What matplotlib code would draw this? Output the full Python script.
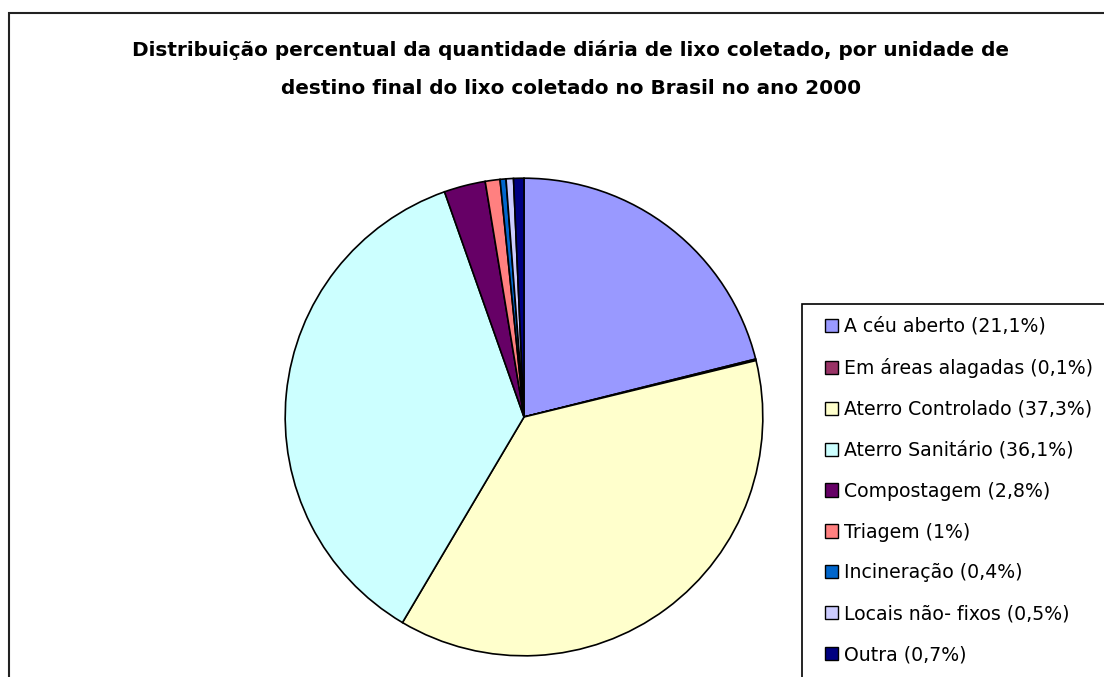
import matplotlib.pyplot as plt
from matplotlib.patches import Patch, Rectangle

categorias = ["A céu aberto", "Em áreas alagadas", "Aterro Controlado",
              "Aterro Sanitário", "Compostagem", "Triagem", "Incineração",
              "Locais não- fixos", "Outra"]
rotulos_pct = ["21,1%", "0,1%", "37,3%", "36,1%", "2,8%", "1%", "0,4%", "0,5%", "0,7%"]
valores = [21.1, 0.1, 37.3, 36.1, 2.8, 1.0, 0.4, 0.5, 0.7]
cores = ["#9999FF", "#993366", "#FFFFCC", "#CCFFFF", "#660066",
         "#FF8080", "#0066CC", "#CCCCFF", "#000080"]

W, H = 1104, 677
fig = plt.figure(figsize=(W / 100, H / 100), dpi=100)

# moldura do gráfico (cortada à direita e embaixo)
fig.patches.append(Rectangle((9 / W, -0.1), 1.2, 1 - 13 / H + 0.1,
                             transform=fig.transFigure, fill=False,
                             edgecolor="#222222", linewidth=1.5))

# pizza: centro (524, 417), raio 240 px
cx, cy, r = 524, 417, 240
ax = fig.add_axes([(cx - r) / W, (H - cy - r) / H, 2 * r / W, 2 * r / H])
ax.pie(valores, colors=cores, startangle=90, counterclock=False,
       wedgeprops=dict(edgecolor="black", linewidth=1.2))
ax.set_xlim(-1.005, 1.005)
ax.set_ylim(-1.005, 1.005)

fig.text(571 / W, 1 - 50 / H,
         "Distribuição percentual da quantidade diária de lixo coletado, por unidade de",
         ha="center", va="center", fontsize=14.4, fontweight="bold")
fig.text(571 / W, 1 - 88 / H,
         "destino final do lixo coletado no Brasil no ano 2000",
         ha="center", va="center", fontsize=14.4, fontweight="bold")

# caixa da legenda (cortada pela borda da figura)
fig.patches.append(Rectangle((802 / W, -0.1), 1.0, 1 - 304 / H + 0.1,
                             transform=fig.transFigure, fill=False,
                             edgecolor="black", linewidth=1.2))

handles = [Patch(facecolor=c, edgecolor="black", linewidth=1) for c in cores]
labels = [f"{n} ({p})" for n, p in zip(categorias, rotulos_pct)]
leg = fig.legend(handles, labels, loc="upper left",
                 bbox_to_anchor=(825 / W, 1 - 317 / H),
                 bbox_transform=fig.transFigure,
                 fontsize=13.6, frameon=False,
                 handlelength=0.7, handleheight=0.7, handletextpad=0.3,
                 labelspacing=1.16, borderpad=0, borderaxespad=0)

fig.savefig("out.png", dpi=100)
